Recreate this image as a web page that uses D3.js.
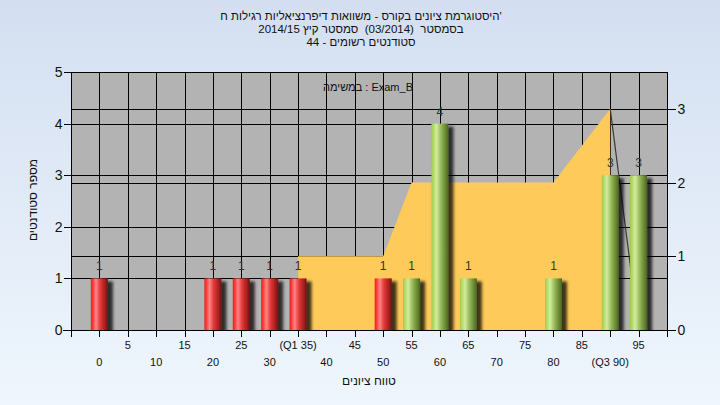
<!DOCTYPE html>
<html>
<head>
<meta charset="utf-8">
<script src="https://cdn.jsdelivr.net/npm/d3@7"></script>
<style>
  html, body { margin: 0; padding: 0; }
  body { width: 720px; height: 405px; overflow: hidden; }
  svg { display: block; font-family: "Liberation Sans", Arial, sans-serif; }
  .pre { white-space: pre; }
</style>
</head>
<body>
<svg id="chart" width="720" height="405"></svg>
<script>
// ---- data ----
const titleLines = [
  "היסטוגרמת ציונים בקורס - משוואות דיפרנציאליות רגילות ח'",
  "בסמסטר  (03/2014)  סמסטר קיץ 2014/15",
  "סטודנטים רשומים - 44"
];
const annotation = "במשימה : Exam_B";
const yTitle = "מספר סטודנטים";
const xTitle = "טווח ציונים";
const grades = [0, 5, 10, 15, 20, 25, 30, 35, 40, 45, 50, 55, 60, 65, 70, 75, 80, 85, 90, 95];
const xTickLabels = ["0", "5", "10", "15", "20", "25", "30", "(Q1 35)", "40", "45", "50", "55", "60", "65", "70", "75", "80", "85", "(Q3 90)", "95"];
const counts = [1, 0, 0, 0, 1, 1, 1, 1, 0, 0, 1, 1, 4, 1, 0, 0, 1, 0, 3, 3];
const passGrade = 55;
const leftTicks = [0, 1, 2, 3, 4, 5];
const rightTicks = [0, 1, 2, 3];
const areaGrades = [35, 50, 55, 80, 90];
const areaValues = [1, 1, 2, 2, 3];
const tailGrades = [90, 95];
const tailValues = [3, 0];

// ---- layout ----
const svg = d3.select("#chart");
const L = 71, R = 667, T = 72, B = 330;
const x = d3.scaleLinear().domain([-5, 100]).range([L, R]);
const yL = d3.scaleLinear().domain([0, 5]).range([B, T]);
const yR = d3.scaleLinear().domain([0, 3.5]).range([B, T]);

const defs = svg.append("defs");
const bg = defs.append("linearGradient").attr("id", "bg").attr("x1", 0).attr("y1", 0).attr("x2", 0).attr("y2", 1);
bg.append("stop").attr("offset", "0%").attr("stop-color", "#d3dff1");
bg.append("stop").attr("offset", "100%").attr("stop-color", "#eff6fd");

function cyl(id, stops) {
  const g = defs.append("linearGradient").attr("id", id).attr("x1", 0).attr("y1", 0).attr("x2", 1).attr("y2", 0);
  stops.forEach(s => g.append("stop").attr("offset", s[0]).attr("stop-color", s[1]));
}
cyl("red", [["0%", "#e81e1e"], ["12%", "#ff3a3a"], ["30%", "#ff8585"], ["55%", "#e23838"], ["85%", "#a21e1e"], ["100%", "#6e1212"]]);
cyl("green", [["0%", "#9ccb4c"], ["12%", "#b2da68"], ["30%", "#d3ec9e"], ["55%", "#98bb5c"], ["85%", "#64842f"], ["100%", "#4a6422"]]);

const sh = defs.append("filter").attr("id", "shadow").attr("x", "-30%").attr("y", "-10%").attr("width", "180%").attr("height", "130%");
sh.append("feGaussianBlur").attr("in", "SourceAlpha").attr("stdDeviation", 1.8).attr("result", "b");
sh.append("feOffset").attr("in", "b").attr("dx", 5).attr("dy", 3).attr("result", "o");
sh.append("feComponentTransfer").attr("in", "o").attr("result", "o2")
  .append("feFuncA").attr("type", "linear").attr("slope", 0.75);
const m = sh.append("feMerge");
m.append("feMergeNode").attr("in", "o2");
m.append("feMergeNode").attr("in", "SourceGraphic");

defs.append("clipPath").attr("id", "plotclip").append("rect")
  .attr("x", L).attr("y", T).attr("width", R - L).attr("height", B - T);

svg.append("rect").attr("width", 720).attr("height", 405).attr("fill", "url(#bg)");

// titles
svg.append("g").selectAll("text").data(titleLines).join("text")
  .attr("class", "pre")
  .attr("x", 361).attr("y", (d, i) => 20 + i * 13)
  .attr("text-anchor", "middle")
  .attr("font-size", 11.5).attr("fill", "#111")
  .text(d => d);

// plot background
svg.append("rect").attr("x", L).attr("y", T).attr("width", R - L).attr("height", B - T).attr("fill", "#b3b3b3");

// grid
const grid = svg.append("g").attr("stroke", "#000").attr("stroke-width", 1).attr("shape-rendering", "crispEdges");
grid.selectAll("line.v").data(grades).join("line").attr("class", "v")
  .attr("x1", d => Math.round(x(d)) + 0.5).attr("x2", d => Math.round(x(d)) + 0.5).attr("y1", T).attr("y2", B);
grid.selectAll("line.hl").data(leftTicks.slice(1, -1)).join("line").attr("class", "hl")
  .attr("x1", L).attr("x2", R).attr("y1", d => Math.round(yL(d)) + 0.5).attr("y2", d => Math.round(yL(d)) + 0.5);
grid.selectAll("line.hr").data(rightTicks.slice(1)).join("line").attr("class", "hr")
  .attr("x1", L).attr("x2", R).attr("y1", d => Math.round(yR(d)) + 0.5).attr("y2", d => Math.round(yR(d)) + 0.5);

// area (right axis)
const areaData = areaGrades.map((g, i) => ({ g, v: areaValues[i] }));
const plot = svg.append("g").attr("clip-path", "url(#plotclip)");
plot.append("path").datum(areaData)
  .attr("fill", "#fecb5a")
  .attr("d", d3.area().x(d => x(d.g)).y0(yR(0)).y1(d => yR(d.v)));
const tailData = tailGrades.map((g, i) => ({ g, v: tailValues[i] }));
plot.append("path").datum(tailData)
  .attr("fill", "none").attr("stroke", "#3a3a3a").attr("stroke-width", 1.2)
  .attr("d", d3.line().x(d => x(d.g)).y(d => yR(d.v)));

// bars
const barData = grades.map((g, i) => ({ g, c: counts[i] })).filter(d => d.c > 0);
plot.append("g").selectAll("rect").data(barData).join("rect")
  .attr("x", d => x(d.g - 1.5)).attr("width", x(1.5) - x(-1.5))
  .attr("y", d => yL(d.c)).attr("height", d => yL(0) - yL(d.c))
  .attr("fill", d => d.g < passGrade ? "url(#red)" : "url(#green)")
  .attr("filter", "url(#shadow)");

// bar value labels
svg.append("g").selectAll("text").data(barData).join("text")
  .attr("x", d => x(d.g)).attr("y", d => yL(d.c) - 8)
  .attr("text-anchor", "middle").attr("font-size", 12)
  .attr("fill", d => d.g < passGrade ? "#3a2a3a" : "#2a3a2a")
  .text(d => d.c);

// annotation
svg.append("text").attr("x", 368).attr("y", 91).attr("text-anchor", "middle")
  .attr("font-size", 11).attr("fill", "#111").text(annotation);

// frame
svg.append("rect").attr("x", L + 0.5).attr("y", T + 0.5).attr("width", R - L).attr("height", B - T)
  .attr("fill", "none").attr("stroke", "#000").attr("shape-rendering", "crispEdges");

// axes
const axL = svg.append("g").attr("transform", `translate(${L + 0.5},0)`)
  .call(d3.axisLeft(yL).tickValues(leftTicks).tickFormat(d3.format("d")).tickSize(8).tickPadding(1));
const axR = svg.append("g").attr("transform", `translate(${R + 0.5},0)`)
  .call(d3.axisRight(yR).tickValues(rightTicks).tickFormat(d3.format("d")).tickSize(8).tickPadding(2));
[axL, axR].forEach(a => {
  a.select(".domain").remove();
  a.selectAll("line").attr("stroke", "#000").attr("shape-rendering", "crispEdges");
  a.selectAll("text").attr("font-size", 14).attr("fill", "#111").attr("font-family", "Liberation Sans, Arial, sans-serif");
});

const xTickVals = d3.range(-5, 101, 5);
const axB = svg.append("g").attr("transform", `translate(0,${B + 0.5})`)
  .call(d3.axisBottom(x).tickValues(xTickVals).tickSize(6).tickFormat(""));
axB.select(".domain").remove();
axB.selectAll("line").attr("stroke", "#000").attr("shape-rendering", "crispEdges");
svg.append("line").attr("x1", L - 8).attr("x2", R + 8).attr("y1", B + 0.5).attr("y2", B + 0.5)
  .attr("stroke", "#000").attr("shape-rendering", "crispEdges");

// x tick labels in two staggered rows
svg.append("g").selectAll("text").data(grades).join("text")
  .attr("x", d => x(d)).attr("y", (d, i) => i % 2 === 1 ? 349 : 366)
  .attr("text-anchor", "middle").attr("font-size", 11).attr("fill", "#111")
  .text((d, i) => xTickLabels[i]);

// axis titles
svg.append("text").attr("x", 369).attr("y", 385).attr("text-anchor", "middle")
  .attr("direction", "rtl").attr("font-size", 12).attr("fill", "#111").text(xTitle);
svg.append("text").attr("transform", "translate(37,200) rotate(-90)").attr("text-anchor", "middle")
  .attr("direction", "rtl").attr("font-size", 12).attr("fill", "#111").text(yTitle);
</script>
</body>
</html>
